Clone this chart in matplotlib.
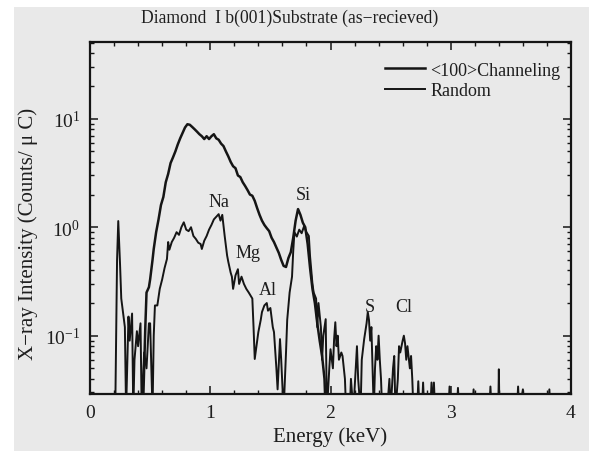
import matplotlib
matplotlib.use('Agg')

import matplotlib.pyplot as plt
from matplotlib.patches import Rectangle
from matplotlib.ticker import MultipleLocator, LogLocator, NullFormatter

plt.rcParams['font.family'] = ['Liberation Serif', 'DejaVu Serif']
plt.rcParams['mathtext.fontset'] = 'custom'
plt.rcParams['mathtext.rm'] = 'Liberation Serif'

FLOOR = 0.02  # below the axis floor = no counts

# <100> channeling spectrum (keV, counts/uC)
chan_e = [0.44, 0.46, 0.47, 0.49, 0.50, 0.52, 0.53, 0.55, 0.57, 0.59, 0.61, 0.63,
          0.65, 0.67, 0.69, 0.71, 0.73, 0.75, 0.77, 0.79, 0.81, 0.83, 0.85, 0.87,
          0.89, 0.91, 0.93, 0.95, 0.97, 0.99, 1.01, 1.03, 1.05, 1.07, 1.09, 1.11,
          1.13, 1.15, 1.17, 1.19, 1.21, 1.23, 1.25, 1.27, 1.29, 1.31, 1.33, 1.35,
          1.37, 1.39, 1.41, 1.43, 1.45, 1.47, 1.49, 1.51, 1.53, 1.55, 1.57, 1.59,
          1.61, 1.63, 1.65, 1.67, 1.69, 1.71, 1.73, 1.75, 1.77, 1.79, 1.81, 1.83,
          1.85, 1.87, 1.89, 1.91, 1.93, 1.95, 1.96]
chan_c = [FLOOR, 0.12, 0.25, 0.28, 0.33, 0.50, 0.63, 0.90, 1.18, 1.6, 1.9, 2.6,
          3.1, 3.9, 4.4, 5.0, 5.8, 6.6, 7.4, 8.3, 8.9, 8.8, 8.4, 8.0,
          7.6, 7.2, 6.9, 6.5, 6.9, 6.5, 6.9, 7.2, 6.6, 6.4, 5.9, 5.6,
          5.0, 4.5, 4.0, 3.65, 3.5, 3.0, 2.9, 2.6, 2.4, 2.2, 2.0, 1.95,
          1.75, 1.5, 1.3, 1.15, 1.05, 0.98, 0.92, 0.80, 0.73, 0.65, 0.58, 0.50,
          0.44, 0.43, 0.52, 0.59, 0.80, 1.15, 1.47, 1.30, 1.10, 1.00, 0.70, 0.42,
          0.27, 0.20, 0.13, 0.09, 0.065, 0.04, FLOOR]

# random spectrum
rand_e = [0.19, 0.21, 0.225, 0.235, 0.25, 0.26, 0.27, 0.29, 0.30, 0.32, 0.33, 0.35,
          0.36, 0.37, 0.39, 0.40, 0.42, 0.43, 0.45, 0.47, 0.49, 0.50, 0.52, 0.53,
          0.54, 0.56, 0.58, 0.60, 0.62, 0.64, 0.65, 0.66, 0.68, 0.70, 0.72, 0.74,
          0.76, 0.78, 0.80, 0.82, 0.84, 0.86, 0.88, 0.90, 0.92, 0.93, 0.95, 0.97,
          0.99, 1.01, 1.03, 1.05, 1.07, 1.085, 1.10, 1.12, 1.14, 1.15, 1.17, 1.18,
          1.19, 1.21, 1.23, 1.24, 1.26, 1.28, 1.30, 1.32, 1.35, 1.36, 1.37, 1.39,
          1.40, 1.42, 1.43, 1.45, 1.47, 1.48, 1.50, 1.52, 1.53, 1.55, 1.56, 1.58,
          1.59, 1.61, 1.63, 1.64, 1.66, 1.68, 1.69, 1.70, 1.72, 1.74, 1.76, 1.78,
          1.80, 1.82, 1.83, 1.85, 1.86, 1.88, 1.89, 1.90, 1.92, 1.93, 1.94, 1.96,
          1.97, 1.99, 2.00, 2.02, 2.03, 2.04, 2.05, 2.06, 2.07, 2.09, 2.10, 2.12,
          2.13, 2.16, 2.17, 2.19, 2.21, 2.22, 2.23, 2.25, 2.26, 2.28, 2.30, 2.31,
          2.32, 2.33, 2.34, 2.35, 2.36, 2.37, 2.38, 2.39, 2.40, 2.41, 2.42, 2.43,
          2.47, 2.49, 2.50, 2.52, 2.53, 2.54, 2.56, 2.57, 2.58, 2.60, 2.61, 2.62,
          2.63, 2.64, 2.66, 2.67, 2.68, 2.69, 2.72, 2.73, 2.74, 2.76, 2.77, 2.78,
          2.83, 2.84, 2.85, 2.86, 2.87, 2.98, 2.99, 3.00, 3.05, 3.06, 3.07, 3.18,
          3.19, 3.20, 3.32, 3.33, 3.34, 3.395, 3.40, 3.405, 3.55, 3.56, 3.57, 3.60,
          3.61, 3.81, 3.82, 3.83]
rand_c = [FLOOR, FLOOR, 0.5, 1.14, 0.45, 0.22, 0.18, 0.12, FLOOR, 0.15, 0.09, 0.16,
          FLOOR, 0.06, 0.11, 0.08, 0.13, FLOOR, 0.07, 0.05, 0.13, 0.13, FLOOR, 0.10,
          0.19, 0.19, 0.27, 0.33, 0.42, 0.51, 0.73, 0.62, 0.73, 0.80, 0.90, 0.85,
          1.0, 1.11, 0.95, 0.92, 1.0, 0.83, 0.78, 0.72, 0.70, 0.63, 0.75, 0.83,
          0.95, 1.05, 1.18, 1.25, 1.32, 1.15, 1.30, 0.83, 0.55, 0.48, 0.38, 0.35,
          0.27, 0.36, 0.41, 0.30, 0.35, 0.30, 0.27, 0.25, 0.22, 0.12, 0.061, 0.09,
          0.108, 0.14, 0.165, 0.19, 0.20, 0.17, 0.18, 0.12, 0.108, 0.05, 0.032, 0.093,
          0.06, FLOOR, 0.07, 0.14, 0.25, 0.35, 0.60, 0.90, 0.82, 0.95, 0.88, 1.02,
          0.90, 0.83, 0.54, 0.30, 0.25, 0.22, 0.12, 0.20, 0.12, 0.06, 0.10, 0.142,
          FLOOR, 0.05, 0.075, 0.05, 0.093, 0.133, 0.08, 0.10, 0.06, 0.07, 0.065, 0.04,
          FLOOR, FLOOR, 0.04, FLOOR, 0.05, 0.08, 0.04, FLOOR, 0.06, 0.093, 0.13, 0.165,
          0.14, 0.09, 0.12, 0.05, FLOOR, 0.05, 0.08, 0.06, 0.10, 0.06, 0.04, FLOOR,
          FLOOR, 0.04, FLOOR, 0.05, 0.065, FLOOR, 0.04, 0.08, 0.07, 0.09, 0.10, 0.085,
          0.06, 0.08, 0.05, 0.065, 0.04, FLOOR, FLOOR, 0.038, FLOOR, FLOOR, 0.037, FLOOR,
          FLOOR, 0.037, FLOOR, 0.037, FLOOR, FLOOR, 0.034, FLOOR, FLOOR, 0.033, FLOOR, FLOOR,
          0.032, FLOOR, FLOOR, 0.034, FLOOR, FLOOR, 0.049, FLOOR, FLOOR, 0.034, FLOOR, 0.032,
          FLOOR, FLOOR, 0.032, FLOOR]

# element labels
elements = ['Na', 'Mg', 'Al', 'Si', 'S', 'Cl']
elem_e = [1.07, 1.31, 1.475, 1.77, 2.33, 2.61]
elem_c = [1.74, 0.59, 0.268, 2.01, 0.187, 0.187]

fig = plt.figure(figsize=(5.89, 4.52), dpi=100, facecolor='white')
fig.patches.append(Rectangle((14 / 589, 0), 1, 1 - 8 / 452, transform=fig.transFigure,
                             facecolor='#e9e9e9', edgecolor='none', zorder=-10))

ax = fig.add_axes([90 / 589, 1 - 395 / 452, 481 / 589, 352 / 452])
ax.patch.set_alpha(0)

ink = '#151515'
txt = '#1e1e1e'
ax.plot(chan_e, chan_c, color=ink, lw=1.8, label='<100>Channeling')
ax.plot(rand_e, rand_c, color=ink, lw=1.4, label='Random')

for name, e, c in zip(elements, elem_e, elem_c):
    ax.text(e, c, name, ha='center', va='center', fontsize=13, color=txt)

ax.set_yscale('log')
ax.set_xlim(0, 4)
ax.set_ylim(0.029, 51)

ax.xaxis.set_major_locator(MultipleLocator(1))
ax.xaxis.set_minor_locator(MultipleLocator(0.2))
ax.yaxis.set_major_locator(LogLocator(base=10, numticks=10))
ax.yaxis.set_minor_locator(LogLocator(base=10, subs=range(2, 10), numticks=10))
ax.yaxis.set_minor_formatter(NullFormatter())
ax.tick_params(which='both', direction='in', top=True, right=True, color=ink,
               labelsize=14, labelcolor=txt)
ax.tick_params(which='major', length=6, width=1.1, pad=7)
ax.tick_params(which='minor', length=3, width=1.0)
for s in ax.spines.values():
    s.set_linewidth(1.6)
    s.set_color(ink)

ax.set_xlabel('Energy (keV)', fontsize=15, color=txt, labelpad=4)
fig.text(28 / 589, 1 - 234 / 452, 'X\u2212ray Intensity (Counts/ \u03bc C)', rotation=90,
         ha='center', va='center', fontsize=15, color=txt)
fig.text(290 / 589, 1 - 18 / 452, 'Diamond  I b(001)Substrate (as\u2212recieved)',
         ha='center', va='center', fontsize=12.7, color=txt)

ax.legend(loc='upper right', frameon=False, fontsize=13, handlelength=2.2,
          handletextpad=0.3, labelspacing=0.2, borderaxespad=0.2,
          bbox_to_anchor=(1.0, 0.975), labelcolor=txt)

fig.savefig('out.png', dpi=100)
